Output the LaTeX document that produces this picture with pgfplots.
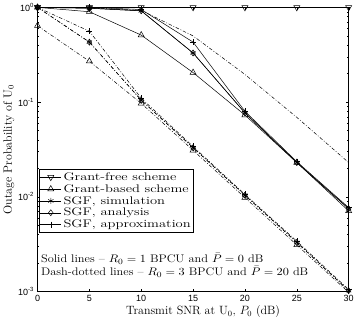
\documentclass[border=0pt]{standalone}
\usepackage{fontspec}
\usepackage{graphicx}
\usepackage{pgfplots}
\pgfplotsset{compat=1.18}
\newfontfamily\arial{Liberation Sans}
\newcommand{\wide}[1]{\scalebox{1.32}[1]{#1}}
\newcommand{\wideb}[1]{\scalebox{1.12}[1]{#1}}
\begin{document}
\begin{tikzpicture}
\begin{axis}[
  scale only axis,
  width=311pt, height=284pt,
  xmin=0, xmax=30, ymin=1e-3, ymax=1,
  ymode=log,
  xtick={0,5,10,15,20,25,30},
  xticklabels={0,5,10,15,20,25,30},
  ytick={0.001,0.01,0.1,1},
  yticklabels={10\textsuperscript{-3},10\textsuperscript{-2},10\textsuperscript{-1},10\textsuperscript{0}},
  tick label style={font=\arial\fontsize{9}{10}\selectfont},
  tick align=inside,
  major tick length=3pt, minor tick length=1.8pt,
  every tick/.style={black, line width=0.3pt},
  axis line style={line width=0.5pt},
  xlabel={Transmit SNR at U$_0$, $P_0$ (dB)},
  ylabel={Outage Probability of U$_0$},
  label style={font=\fontsize{12}{14}\selectfont},
  xlabel style={yshift=3pt, xshift=10pt},
  ylabel style={yshift=-3pt},
  legend cell align=left,
  legend style={at={(rel axis cs:0.004,0.43)}, anchor=north west,
    font=\fontsize{11}{13}\selectfont, draw=black, line width=0.5pt,
    inner sep=1pt, row sep=-1.4pt},
  legend image code/.code={
    \draw[mark repeat=2,mark phase=2] plot coordinates {(0cm,0cm) (0.37cm,0cm) (0.74cm,0cm)};},
  every axis plot/.append style={black, line width=0.5pt, mark options={solid}},
  dd/.style={dash pattern=on 3.5pt off 1.8pt on 0.8pt off 1.8pt},
]
% ---- solid: R0 = 1 BPCU, Pbar = 0 dB
\addplot[mark=triangle, mark size=3.5pt, every mark/.append style={rotate=180}] coordinates {(0,1)(5,1)(10,1)(15,1)(20,1)(25,1)(30,1)};
\addlegendentry{\wide{Grant-free scheme}}
\addplot[mark=triangle, mark size=3.5pt] coordinates {(0,1)(5,0.9)(10,0.51)(15,0.205)(20,0.073)(25,0.023)(30,0.0071)};
\addlegendentry{\wide{Grant-based scheme}}
\addplot[mark=asterisk, mark size=3pt] coordinates {(0,1)(5,0.98)(10,0.92)(15,0.33)(20,0.077)(25,0.023)(30,0.0075)};
\addlegendentry{\wide{SGF, simulation}}
\addplot[mark=diamond, mark size=3pt] coordinates {(0,1)(5,0.98)(10,0.92)(15,0.33)(20,0.077)(25,0.023)(30,0.0075)};
\addlegendentry{\wide{SGF, analysis}}
\addplot[mark=+, mark size=3pt] coordinates {(0,1)(5,1)(10,0.95)(15,0.43)(20,0.08)(25,0.0235)(30,0.0077)};
\addlegendentry{\wide{SGF, approximation}}
% ---- dash-dotted: R0 = 3 BPCU, Pbar = 20 dB
\addplot[dd, forget plot, mark=triangle, mark size=3.5pt, mark indices={1,2}, every mark/.append style={rotate=180}] coordinates {(0,1)(5,0.99)(10,0.93)(15,0.5)(20,0.196)(25,0.069)(30,0.023)};
\addplot[dd, forget plot, mark=triangle, mark size=3.5pt] coordinates {(0,0.64)(5,0.27)(10,0.097)(15,0.031)(20,0.0098)(25,0.0031)(30,0.00098)};
\addplot[dd, forget plot, mark=asterisk, mark size=3pt] coordinates {(0,1)(5,0.43)(10,0.105)(15,0.033)(20,0.0104)(25,0.0033)(30,0.00102)};
\addplot[dd, forget plot, mark=diamond, mark size=3pt] coordinates {(0,1)(5,0.43)(10,0.105)(15,0.033)(20,0.0104)(25,0.0033)(30,0.00102)};
\addplot[dd, forget plot, mark=+, mark size=3pt] coordinates {(0,1)(5,0.56)(10,0.11)(15,0.034)(20,0.0106)(25,0.0034)(30,0.00105)};
\node[anchor=south west, align=left, font=\fontsize{11}{13}\selectfont, inner sep=1.5pt]
  at (rel axis cs:0.006,0.045) {\wideb{Solid lines -- $R_0=1$ BPCU and $\bar{P}=0$ dB}\\\wideb{Dash-dotted lines -- $R_0=3$ BPCU and $\bar{P}=20$ dB}};
\end{axis}
\end{tikzpicture}
\end{document}
